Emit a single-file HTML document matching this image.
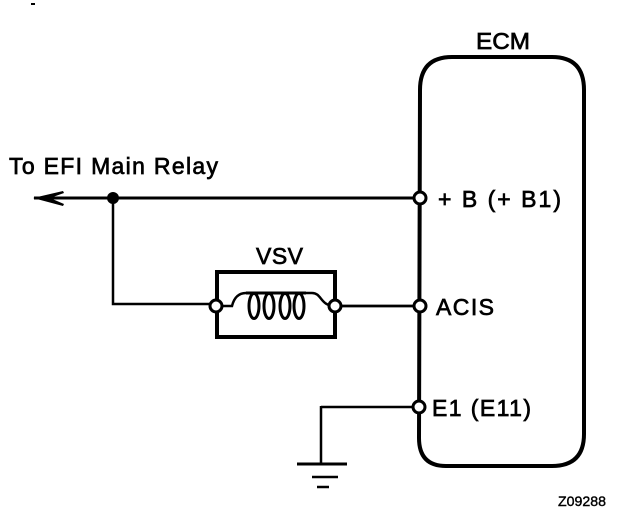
<!DOCTYPE html>
<html><head><meta charset="utf-8">
<style>html,body{margin:0;padding:0;background:#fff}svg{display:block}text{font-family:"Liberation Sans",sans-serif;fill:#000;stroke:#000;stroke-width:.7}</style>
</head><body>
<svg width="624" height="514" viewBox="0 0 624 514" xmlns="http://www.w3.org/2000/svg">
<rect x="31" y="3" width="4" height="2" fill="#000"/>
<g fill="none" stroke="#000">
<path d="M420 90Q420 57 452 57H552Q584 57 584 90V434Q584 466 552 466H446Q419 466 419 438Z" stroke-width="4"/>
<path d="M62 198H420" stroke-width="3"/>
<path d="M113 198V304H216" stroke-width="2.5"/>
<path d="M335 306H420" stroke-width="2.8"/>
<rect x="217" y="272" width="118" height="65" stroke-width="4"/>
<path d="M216 306H232C234 298 238 293 246 293H250M306 293H312C322 293 320 306 335 306" stroke-width="2.5"/>
<path d="M321 407H419M321 406V464" stroke-width="2.5"/>
<path d="M297 464H347" stroke-width="3"/>
<path d="M312 477H338" stroke-width="2.5"/>
<path d="M317 487H329" stroke-width="2.5"/>
<g stroke-width="3">
<ellipse cx="254" cy="306" rx="5" ry="12.5"/>
<ellipse cx="269" cy="306" rx="5" ry="12.5"/>
<ellipse cx="285" cy="306" rx="5" ry="12.5"/>
<ellipse cx="299" cy="306" rx="5" ry="12.5"/>
<path d="M246 293H306"/>
</g>
</g>
<path d="M33 198L63 191L64 193L50 198L64 204L63 206Z" fill="#000"/>
<path d="M34 198H75" stroke="#000" stroke-width="3"/>
<circle cx="113" cy="198" r="6" fill="#000"/>
<g fill="#fff" stroke="#000" stroke-width="3">
<circle cx="216" cy="306" r="6"/>
<circle cx="335" cy="306" r="6"/>
<circle cx="420" cy="198" r="6"/>
<circle cx="420" cy="306" r="6"/>
<circle cx="419" cy="407" r="6"/>
</g>
<text x="476" y="49" font-size="23" textLength="54" lengthAdjust="spacingAndGlyphs">ECM</text>
<text x="9" y="174" font-size="23" textLength="209" lengthAdjust="spacing">To EFI Main Relay</text>
<text x="438" y="207" font-size="23" textLength="123" lengthAdjust="spacing">+ B  (+ B1)</text>
<text x="436" y="315" font-size="23" textLength="58" lengthAdjust="spacing">ACIS</text>
<text x="432" y="416" font-size="23" textLength="99" lengthAdjust="spacing">E1  (E11)</text>
<text x="256" y="264" font-size="23" textLength="47" lengthAdjust="spacing">VSV</text>
<text x="558" y="506" font-size="14" textLength="48" lengthAdjust="spacingAndGlyphs" style="stroke-width:.4">Z09288</text>
</svg>
</body></html>
